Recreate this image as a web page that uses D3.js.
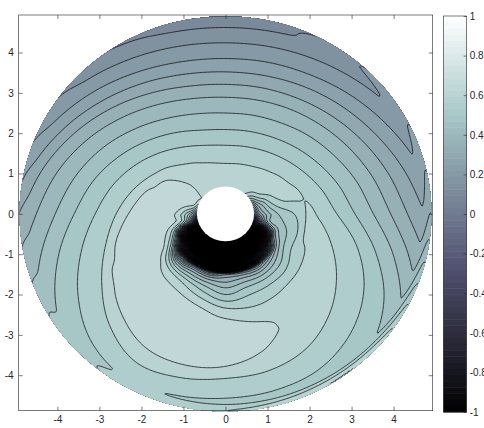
<!DOCTYPE html>
<html>
<head>
<meta charset="utf-8">
<script src="https://cdn.jsdelivr.net/npm/d3@7"></script>
<style>
body { margin: 0; background: #fff; }
</style>
</head>
<body>
<svg id="chart" width="484" height="428"></svg>
<script>
// rays every 15 degrees, counter-clockwise from +x
var rayAngles = d3.range(0, 360, 15);

// near field: values read along each ray at these radii (null = beyond the ridge)
var innerRadii = [0.68, 0.8, 0.95, 1.1, 1.3, 1.5, 1.75, 2.0, 2.5, 3.0];
var a0   = [0.10, 0.30, 0.40, 0.46, 0.51, 0.535, 0.565, 0.61, null, null];
var a15  = [0.25, 0.40, 0.48, 0.55, 0.595, 0.612, 0.61, null, null, null];
var a30  = [0.45, 0.53, 0.595, 0.615, 0.625, 0.62, null, null, null, null];
var a45  = [0.59, 0.61, 0.625, 0.63, 0.625, null, null, null, null, null];
var a60  = [0.615, 0.625, 0.63, 0.625, null, null, null, null, null, null];
var a75  = [0.63, 0.632, 0.628, 0.62, null, null, null, null, null, null];
var a90  = [0.635, 0.632, 0.625, 0.615, null, null, null, null, null, null];
var a105 = [0.635, 0.633, 0.628, 0.615, null, null, null, null, null, null];
var a120 = [0.63, 0.635, 0.633, 0.625, 0.61, null, null, null, null, null];
var a135 = [0.635, 0.64, 0.642, 0.64, 0.63, 0.615, null, null, null, null];
var a150 = [0.645, 0.66, 0.67, 0.675, 0.67, 0.66, 0.64, null, null, null];
var a165 = [0.55, 0.65, 0.67, 0.68, 0.685, 0.68, 0.665, null, null, null];
var a180 = [0.30, 0.45, 0.55, 0.62, 0.67, 0.69, 0.69, 0.675, null, null];
var a195 = [-0.3, 0.1, 0.35, 0.5, 0.62, 0.67, 0.69, 0.69, 0.675, null];
var a210 = [-1.0, -1.0, -0.95, -0.6, 0.25, 0.55, 0.66, 0.685, 0.69, 0.665];
var a225 = [-1.05, -1.1, -1.05, -1.0, -0.7, 0.15, 0.5, 0.63, 0.685, 0.69];
var a240 = [-1.1, -1.1, -1.1, -1.08, -0.85, 0.25, 0.48, 0.6, 0.68, 0.69];
var a255 = [-1.1, -1.15, -1.15, -1.1, -0.95, 0.2, 0.45, 0.55, 0.665, 0.69];
var a270 = [-1.1, -1.15, -1.15, -1.1, -1.0, 0.29, 0.42, 0.50, 0.635, 0.69];
var a285 = [-1.1, -1.12, -1.12, -1.08, -0.95, 0.28, 0.45, 0.53, 0.615, 0.665];
var a300 = [-1.05, -1.1, -1.1, -1.05, -0.8, 0.25, 0.45, 0.54, 0.615, 0.64];
var a315 = [-1.0, -1.05, -1.05, -0.95, -0.3, 0.35, 0.48, 0.55, 0.622, 0.62];
var a330 = [-1.0, -1.0, -0.95, -0.4, 0.3, 0.46, 0.54, 0.585, 0.62, null];
var a345 = [-0.4, -0.05, 0.2, 0.38, 0.46, 0.5, 0.545, 0.608, null, null];

// far field: radius at which each contour level crosses each ray (null = absent)
var lvl65 = [null, null, null, null, null, null, null, null, null, null, null, 2.0, 2.31, 2.7, 3.1, 3.5, 3.82, 3.87, 3.78, 3.5, null, null, null, null];
var lvl60 = [2.15, 1.87, 1.65, 1.48, 1.35, 1.28, 1.25, 1.31, 1.46, 1.69, 1.97, 2.28, 2.6, 2.95, 3.4, 3.9, 4.25, 4.2, 4.08, 4.02, 3.85, 3.5, 3.05, 2.58];
var lvl55 = [2.65, 2.36, 2.12, 1.94, 1.81, 1.73, 1.7, 1.76, 1.92, 2.16, 2.45, 2.77, 3.1, 3.55, 4.05, 4.5, 4.72, 4.65, 4.57, 4.53, 4.45, 4.2, 3.8, 3.25];
var lvl50 = [3.08, 2.78, 2.53, 2.34, 2.2, 2.12, 2.09, 2.15, 2.33, 2.58, 2.89, 3.24, 3.6, 4.12, 4.65, 5.1, 5.25, 5.2, 5.1, 5.05, 5.0, 4.8, 4.35, 3.7];
var lvl45 = [3.52, 3.21, 2.95, 2.76, 2.61, 2.53, 2.5, 2.57, 2.74, 3.0, 3.33, 3.68, 4.05, 4.58, 5.15, 5.6, 5.8, 5.7, 5.6, 5.5, 5.45, 5.25, 4.8, 4.15];
var lvl40 = [3.93, 3.61, 3.35, 3.15, 3.01, 2.92, 2.89, 2.96, 3.14, 3.41, 3.75, 4.12, 4.5, 5.02, 5.55, 6.0, 6.2, 6.1, 6.0, 6.0, 6.0, 5.7, 5.2, 4.55];
var lvl35 = [4.33, 3.99, 3.71, 3.49, 3.33, 3.24, 3.21, 3.28, 3.47, 3.75, 4.09, 4.47, 4.86, 5.45, null, null, null, null, null, null, null, null, 5.6, 4.95];
var lvl30 = [4.74, 4.37, 4.06, 3.83, 3.66, 3.55, 3.52, 3.59, 3.77, 4.03, 4.36, 4.73, 5.1, 5.7, null, null, null, null, null, null, null, null, null, 5.35];
var lvl25 = [5.15, 4.75, 4.43, 4.18, 3.99, 3.89, 3.85, 3.91, 4.08, 4.34, 4.65, 5.0, 5.35, null, null, null, null, null, null, null, null, null, null, 5.75];
var lvl20 = [5.55, 5.15, 4.82, 4.57, 4.39, 4.28, 4.24, 4.3, 4.45, 4.68, 4.96, 5.28, 5.6, null, null, null, null, null, null, null, null, null, null, null];
var lvl15 = [5.95, 5.55, 5.2, 4.95, 4.77, 4.66, 4.62, 4.67, 4.81, 5.02, 5.28, null, null, null, null, null, null, null, null, null, null, null, null, null];
var lvl10 = [null, 5.85, 5.48, 5.2, 5.0, 4.87, 4.83, 4.88, 5.03, 5.24, null, null, null, null, null, null, null, null, null, null, null, null, null, null];
var lvl05 = [null, null, null, 5.45, 5.22, 5.05, 5.0, 5.05, 5.2, null, null, null, null, null, null, null, null, null, null, null, null, null, null, null];

// thin layer along the rim: how much the value rises right at the edge, per ray
var rimLift = [0.07, 0.06, 0.05, 0.05, 0.04, 0.03, 0.02, 0.02, 0.01, 0.01, 0.01, 0.01,
	0.01, 0.01, 0.02, 0.02, 0.03, 0.05, 0.08, 0.11, 0.14, 0.15, 0.13, 0.10];

var innerRows = [a0, a15, a30, a45, a60, a75, a90, a105, a120, a135, a150, a165,
	a180, a195, a210, a225, a240, a255, a270, a285, a300, a315, a330, a345];
var levelRows = [[0.65, lvl65], [0.6, lvl60], [0.55, lvl55], [0.5, lvl50], [0.45, lvl45], [0.4, lvl40],
	[0.35, lvl35], [0.3, lvl30], [0.25, lvl25], [0.2, lvl20], [0.15, lvl15], [0.1, lvl10], [0.05, lvl05]];

var innerR = 0.68, outerR = 4.9;
var xTicks = [-4, -3, -2, -1, 0, 1, 2, 3, 4];
var yTicks = [-4, -3, -2, -1, 0, 1, 2, 3, 4];
var cbTicks = [-1, -0.8, -0.6, -0.4, -0.2, 0, 0.2, 0.4, 0.6, 0.8, 1];
var levels = d3.range(0, 35).map(function(k) { return Math.round((-1 + k * 0.05) * 100) / 100; });

var svg = d3.select("#chart");
var xS = d3.scaleLinear().domain([-4.92, 4.93]).range([18.7, 432.7]);
var yS = d3.scaleLinear().domain([-4.88, 4.93]).range([410.7, 15]);
var yCb = d3.scaleLinear().domain([-1, 1]).range([412, 16]);

// MATLAB bone colormap
function bone(t) {
	t = Math.max(0, Math.min(1, t));
	var hr = Math.min(1, t / 0.375),
		hg = Math.max(0, Math.min(1, (t - 0.375) / 0.375)),
		hb = Math.max(0, Math.min(1, (t - 0.75) / 0.25));
	return d3.rgb(255 * (7 * t + hb) / 8, 255 * (7 * t + hg) / 8, 255 * (7 * t + hr) / 8).formatHex();
}
function levelColor(v) { return bone((v + 1) / 2); }

// monotone cubic (Fritsch-Carlson)
function slopes(xs, ys) {
	var n = xs.length, d = [], m = [];
	for (var i = 0; i < n - 1; i++) d.push((ys[i + 1] - ys[i]) / (xs[i + 1] - xs[i]));
	m[0] = d[0]; m[n - 1] = d[n - 2];
	for (var i = 1; i < n - 1; i++) {
		if (d[i - 1] * d[i] <= 0) m[i] = 0;
		else {
			var h0 = xs[i] - xs[i - 1], h1 = xs[i + 1] - xs[i];
			var w1 = 2 * h1 + h0, w2 = h1 + 2 * h0;
			m[i] = (w1 + w2) / (w1 / d[i - 1] + w2 / d[i]);
		}
	}
	return m;
}
function hermite(xs, ys, ms, x) {
	var i = Math.max(0, Math.min(xs.length - 2, d3.bisectRight(xs, x) - 1));
	var h = xs[i + 1] - xs[i], t = (x - xs[i]) / h, t2 = t * t, t3 = t2 * t;
	return (2 * t3 - 3 * t2 + 1) * ys[i] + (t3 - 2 * t2 + t) * h * ms[i]
		+ (-2 * t3 + 3 * t2) * ys[i + 1] + (t3 - t2) * h * ms[i + 1];
}
function catmull(p, t) {
	return 0.5 * (2 * p[1] + (-p[0] + p[2]) * t + (2 * p[0] - 5 * p[1] + 4 * p[2] - p[3]) * t * t
		+ (-p[0] + 3 * p[1] - 3 * p[2] + p[3]) * t * t * t);
}

// per ray: full radial profile, plus the far part inverted (level -> radius)
var rays = innerRows.map(function(row, k) {
	var rs = [], vs = [];
	row.forEach(function(v, i) { if (v !== null) { rs.push(innerRadii[i]); vs.push(v); } });
	var nIn = rs.length;
	levelRows.forEach(function(lr) {
		var r = lr[1][k];
		if (r !== null && r > rs[rs.length - 1] + 0.05 && lr[0] < vs[vs.length - 1]) { rs.push(r); vs.push(lr[0]); }
	});
	var Ls = vs.slice(nIn - 1).reverse(), Rs = rs.slice(nIn - 1).reverse();
	return { r: rs, v: vs, m: slopes(rs, vs), rR: rs[nIn - 1], L: Ls, R: Rs, mq: slopes(Ls, Rs) };
});

function alongRay(k, r) {
	var o = rays[k];
	r = Math.max(o.r[0], Math.min(o.r[o.r.length - 1], r));
	return hermite(o.r, o.v, o.m, r);
}
function levelRadius(k, L) {
	var o = rays[k], xs = o.L, ys = o.R, n = xs.length;
	if (L >= xs[n - 1]) return ys[n - 1] - (L - xs[n - 1]) * 4;
	if (L <= xs[0]) return ys[0] + (L - xs[0]) * (ys[1] - ys[0]) / (xs[1] - xs[0]);
	return hermite(xs, ys, o.mq, L);
}

var nRay = rayAngles.length, dAng = 360 / nRay;
function field(x, y) {
	var r = Math.max(innerR, Math.min(4.95, Math.hypot(x, y)));
	var a = (Math.atan2(y, x) * 180 / Math.PI + 360) % 360;
	var k = Math.floor(a / dAng) % nRay, t = a / dAng - Math.floor(a / dAng);
	var ks = [-1, 0, 1, 2].map(function(o) { return (k + o + nRay) % nRay; });

	// near field: blend values at fixed radius
	var p = ks.map(function(kk) { return alongRay(kk, r); });
	var lo = Math.min(p[1], p[2]), hi = Math.max(p[1], p[2]);
	var slack = hi - lo > 0.25 ? 0 : 0.008;
	var v = Math.max(lo - slack, Math.min(hi + slack, catmull(p, t)));

	// far field: blend the radius of each level, then invert
	var ridge = catmull(ks.map(function(kk) { return rays[kk].rR; }), t);
	var w = Math.max(0, Math.min(1, (r - ridge) / 0.3));
	if (w > 0) {
		var lo2 = -0.6, hi2 = 0.8;
		for (var it = 0; it < 22; it++) {
			var mid = (lo2 + hi2) / 2;
			var rm = catmull(ks.map(function(kk) { return levelRadius(kk, mid); }), t);
			if (rm > r) lo2 = mid; else hi2 = mid;
		}
		w = w * w * (3 - 2 * w);
		v = v * (1 - w) + (lo2 + hi2) / 2 * w;
	}

	// rim layer
	var b = Math.max(0, Math.min(1, (r - 4.66) / 0.24));
	if (b > 0) v += b * b * (3 - 2 * b) * Math.max(0, catmull(ks.map(function(kk) { return rimLift[kk]; }), t));
	return v;
}

// sample on a regular grid for d3.contours
var n = 320, x0 = -5, step = 10 / (n - 1);
var grid = new Array(n * n);
for (var j = 0; j < n; j++) {
	for (var i = 0; i < n; i++) {
		grid[j * n + i] = field(x0 + i * step, x0 + j * step);
	}
}
var contours = d3.contours().size([n, n]).thresholds(levels)(grid);

var path = d3.geoPath(d3.geoTransform({
	point: function(px, py) {
		this.stream.point(xS(x0 + (px - 0.5) * step), yS(x0 + (py - 0.5) * step));
	}
}));

var cx = xS(0), cy = yS(0);
svg.append("defs").append("clipPath").attr("id", "disk")
	.append("ellipse")
	.attr("cx", cx).attr("cy", cy)
	.attr("rx", xS(outerR) - cx).attr("ry", cy - yS(outerR));

var plot = svg.append("g").attr("clip-path", "url(#disk)");
plot.append("ellipse")
	.attr("cx", cx).attr("cy", cy)
	.attr("rx", xS(outerR) - cx).attr("ry", cy - yS(outerR))
	.attr("fill", bone(0));
plot.selectAll("path.band")
	.data(contours)
	.enter().append("path")
	.attr("class", "band")
	.attr("d", path)
	.attr("fill", function(d) { return levelColor(d.value); });
plot.selectAll("path.iso")
	.data(contours)
	.enter().append("path")
	.attr("class", "iso")
	.attr("d", path)
	.attr("fill", "none")
	.attr("stroke", "#000")
	.attr("stroke-width", 0.7);

// the hole
svg.append("ellipse")
	.attr("cx", cx).attr("cy", cy)
	.attr("rx", xS(innerR) - cx).attr("ry", cy - yS(innerR))
	.attr("fill", "#fff");

// axes, MATLAB style box with inward ticks
var axisColor = "#262626";
function styleAxis(g) {
	g.select(".domain").remove();
	g.attr("font-family", "'Liberation Sans', Arial, sans-serif").attr("font-size", 10);
	g.selectAll("line").attr("stroke", axisColor).attr("stroke-width", 0.6);
	g.selectAll("text").attr("fill", axisColor);
}
var fmt = function(d) { return String(d); };
var xr = xS.range(), yr = yS.range();

svg.append("g").attr("transform", "translate(0," + yr[0] + ")")
	.call(d3.axisBottom(xS).tickValues(xTicks).tickSize(-4).tickPadding(5).tickFormat(fmt))
	.call(styleAxis);
svg.append("g").attr("transform", "translate(0," + yr[1] + ")")
	.call(d3.axisTop(xS).tickValues(xTicks).tickSize(-4).tickFormat(""))
	.call(styleAxis);
svg.append("g").attr("transform", "translate(" + xr[0] + ",0)")
	.call(d3.axisLeft(yS).tickValues(yTicks).tickSize(-4).tickPadding(5).tickFormat(fmt))
	.call(styleAxis);
svg.append("g").attr("transform", "translate(" + xr[1] + ",0)")
	.call(d3.axisRight(yS).tickValues(yTicks).tickSize(-4).tickFormat(""))
	.call(styleAxis);
svg.append("rect")
	.attr("x", xr[0]).attr("y", yr[1])
	.attr("width", xr[1] - xr[0]).attr("height", yr[0] - yr[1])
	.attr("fill", "none").attr("stroke", axisColor).attr("stroke-width", 0.6);

// colorbar
var cbX = 443.3, cbW = 23.4, nCb = 64;
var cbSteps = d3.range(nCb).map(function(i) { return -1 + i * 2 / nCb; });
svg.append("g").selectAll("rect")
	.data(cbSteps)
	.enter().append("rect")
	.attr("x", cbX)
	.attr("y", function(d) { return yCb(d + 2 / nCb); })
	.attr("width", cbW)
	.attr("height", function(d) { return yCb(d) - yCb(d + 2 / nCb) + 0.5; })
	.attr("fill", function(d) { return bone((d + 1) / 2 + 0.5 / nCb); });
svg.append("g").attr("transform", "translate(" + (cbX + cbW) + ",0)")
	.call(d3.axisRight(yCb).tickValues(cbTicks).tickSize(-3).tickPadding(3).tickFormat(fmt))
	.call(styleAxis);
svg.append("rect")
	.attr("x", cbX).attr("y", yCb(1))
	.attr("width", cbW).attr("height", yCb(-1) - yCb(1))
	.attr("fill", "none").attr("stroke", axisColor).attr("stroke-width", 0.6);
</script>
</body>
</html>
